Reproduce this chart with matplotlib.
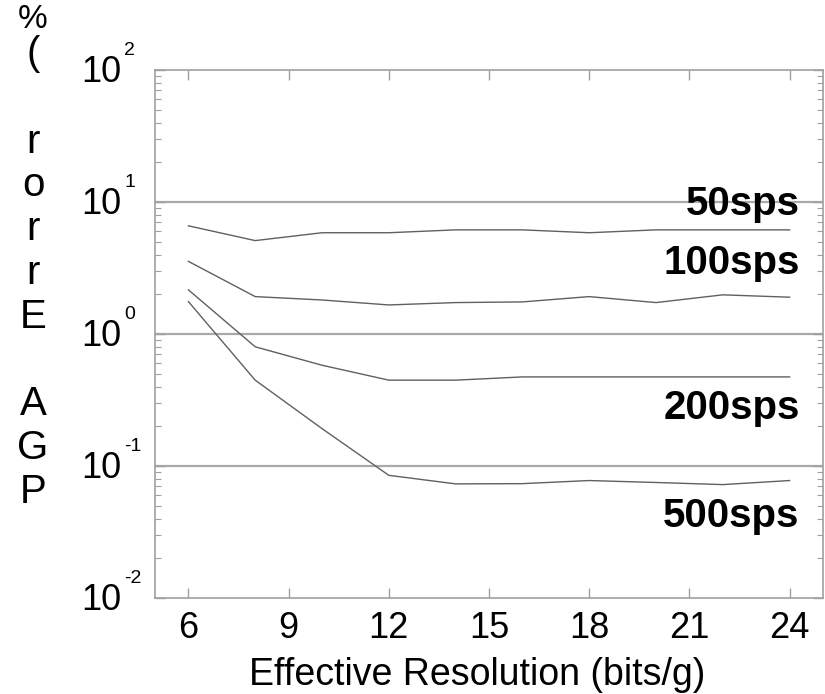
import matplotlib
matplotlib.use("Agg")
import matplotlib.pyplot as plt
import matplotlib.transforms as mtransforms
from matplotlib.ticker import LogLocator, NullFormatter

plt.rcParams['font.family'] = ['Liberation Sans', 'DejaVu Sans']

# Data
bits = [6, 8, 10, 12, 14, 16, 18, 20, 22, 24]
err_50 = [6.6, 5.1, 5.85, 5.85, 6.15, 6.15, 5.85, 6.15, 6.15, 6.15]
err_100 = [3.55, 1.92, 1.81, 1.66, 1.73, 1.75, 1.92, 1.73, 1.98, 1.90]
err_200 = [2.16, 0.80, 0.58, 0.447, 0.447, 0.473, 0.473, 0.473, 0.473, 0.473]
err_500 = [1.76, 0.447, 0.192, 0.085, 0.0732, 0.0735, 0.0776, 0.075, 0.0723, 0.0776]
rates = ['50sps', '100sps', '200sps', '500sps']
label_y = [9.6, 3.45, 0.274, 0.042]

x_ticks = [6, 9, 12, 15, 18, 21, 24]
y_exps = [-2, -1, 0, 1, 2]
ylabel_chars = ['P', 'G', 'A', ' ', 'E', 'r', 'r', 'o', 'r', ' ', '(', '%']

W, H = 825, 694
fig = plt.figure(figsize=(W / 100, H / 100), dpi=100)
left, right, top, bottom = 155, 823, 70, 598
ax = fig.add_axes([left / W, 1 - bottom / H, (right - left) / W, (bottom - top) / H])

ax.set_yscale('log')
ax.set_xlim(5, 25)
ax.set_ylim(1e-2, 1e2)

line_col = '#606060'
for series in [err_50, err_100, err_200, err_500]:
    ax.plot(bits, series, color=line_col, lw=1.0)

# horizontal grid at interior decades
for e in y_exps[1:-1]:
    ax.axhline(10.0 ** e, color='#a8a8a8', lw=1.6, zorder=0)

for name, yv in zip(rates, label_y):
    ax.text(24.3, yv, name, ha='right', va='center', fontsize=29,
            fontweight='bold', color='black')

spine_col = '#a0a0a0'
for s in ax.spines.values():
    s.set_color(spine_col)
    s.set_linewidth(1.2)

ax.set_xticks(x_ticks)
ax.set_xticklabels([str(v) for v in x_ticks])
ax.tick_params(axis='x', which='both', direction='in', length=7, width=1,
               color=spine_col, top=True, labelsize=26, pad=9)
ax.set_yticks([10.0 ** e for e in y_exps])
ax.yaxis.set_minor_locator(LogLocator(base=10, subs=range(2, 10)))
ax.yaxis.set_minor_formatter(NullFormatter())
ax.set_yticklabels([])
ax.tick_params(axis='y', which='major', direction='in', length=7, width=1,
               color=spine_col, right=True)
ax.tick_params(axis='y', which='minor', direction='in', length=4, width=0.8,
               color=spine_col, right=True)

# y tick labels drawn as 10 with a raised exponent
trans = mtransforms.blended_transform_factory(ax.transAxes, ax.transData)
for e in y_exps:
    ax.annotate('10', xy=(0, 10.0 ** e), xycoords=trans,
                xytext=(-24, -8.5), textcoords='offset points',
                ha='right', va='baseline', fontsize=26, annotation_clip=False)
    ax.annotate(str(e), xy=(0, 10.0 ** e), xycoords=trans,
                xytext=(-22, 11), textcoords='offset points',
                ha='left', va='baseline', fontsize=14, annotation_clip=False)

ax.set_xlabel('Effective Resolution (bits/g)', fontsize=27)
ax.xaxis.set_label_coords(0.483, -0.112)

# stacked upright y-label, read bottom to top
baselines = [503 - 43.8 * i for i in range(len(ylabel_chars))]
sizes = [29] * len(ylabel_chars)
baselines[-1] = 28  # keep the % sign inside the canvas
sizes[-1] = 24
for ch, yb, fs in zip(ylabel_chars, baselines, sizes):
    fig.text(33 / W, 1 - yb / H, ch, ha='center', va='baseline', fontsize=fs)

fig.savefig('out.png', dpi=100)
